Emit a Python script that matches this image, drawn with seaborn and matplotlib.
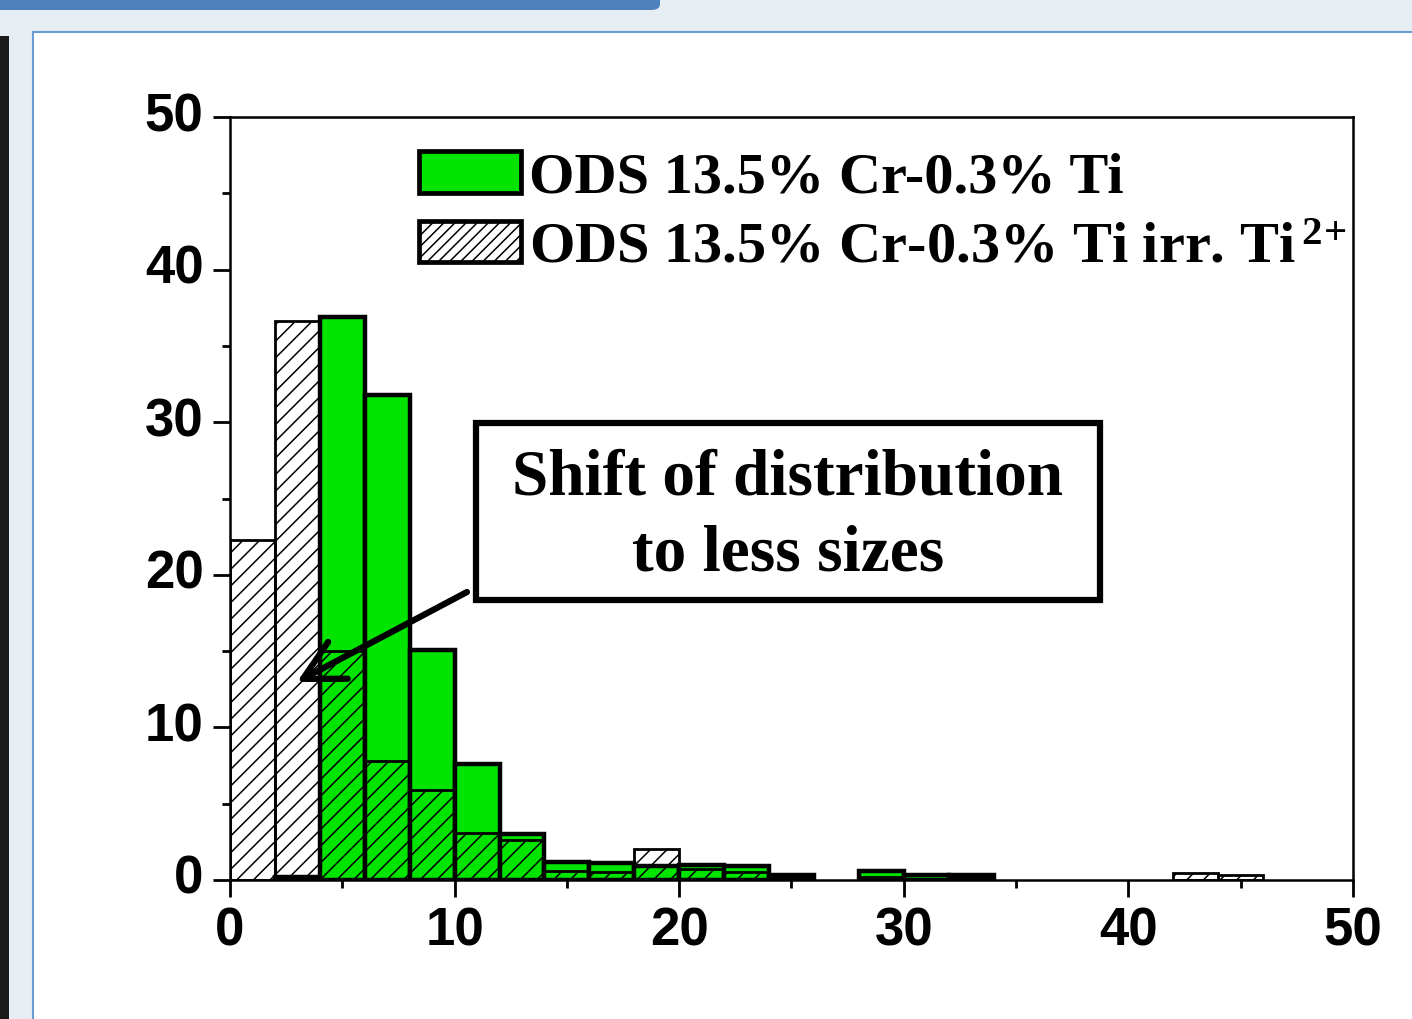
import numpy as np
import pandas as pd
import matplotlib
matplotlib.use("Agg")
import matplotlib.pyplot as plt
from matplotlib.patches import Patch, Rectangle, FancyBboxPatch
import seaborn as sns

# particle size bins (nm), 2 nm wide, 0..50
bin_edges = list(range(0, 52, 2))
bin_centers = [e + 1 for e in bin_edges[:-1]]

# frequency (%) per bin
ods_initial = [0.0, 0.2, 36.9, 31.8, 15.1, 7.6, 3.0, 1.2, 1.1, 0.9, 1.0, 0.9, 0.35,
               0.0, 0.6, 0.3, 0.3, 0.0, 0.0, 0.0, 0.0, 0.0, 0.0, 0.0, 0.0]
ods_irradiated = [22.3, 36.6, 15.0, 7.8, 5.9, 3.1, 2.6, 0.6, 0.5, 2.0, 0.7, 0.5, 0.2,
                  0.0, 0.2, 0.0, 0.2, 0.0, 0.0, 0.0, 0.0, 0.45, 0.3, 0.0, 0.0]

label_initial = "ODS 13.5% Cr-0.3% Ti"
label_irradiated = r"ODS 13.5% Cr-0.3% Ti irr. Ti$^{\,2\!+}$"
note_text = "Shift of distribution\nto less sizes"

x_ticks = [0, 10, 20, 30, 40, 50]
y_ticks = [0, 10, 20, 30, 40, 50]

GREEN = "#00E400"

sns.set_theme(style="white")
plt.rcParams["font.family"] = ["Liberation Sans", "DejaVu Sans"]
plt.rcParams["text.color"] = "black"
plt.rcParams["xtick.color"] = "black"
plt.rcParams["ytick.color"] = "black"
plt.rcParams["mathtext.fontset"] = "custom"
plt.rcParams["mathtext.rm"] = "Liberation Serif:bold"
plt.rcParams["mathtext.bf"] = "Liberation Serif:bold"
plt.rcParams["mathtext.default"] = "rm"
plt.rcParams["hatch.linewidth"] = 1.1

W, H = 1412, 1019
fig = plt.figure(figsize=(W / 100, H / 100), dpi=100)
fig.patch.set_facecolor("white")

def fx(px):
    return px / W

def fy(py):
    return 1 - py / H

# window chrome around the white panel
fig.patches.append(Rectangle((0, fy(32)), 1, 1 - fy(32), transform=fig.transFigure,
                             facecolor="#E7EEF3", edgecolor="none", zorder=0))
fig.patches.append(Rectangle((0, 0), fx(33), 1, transform=fig.transFigure,
                             facecolor="#E7EEF3", edgecolor="none", zorder=0))
fig.patches.append(Rectangle((0, 0), fx(9), fy(36), transform=fig.transFigure,
                             facecolor="#1A1A1A", edgecolor="none", zorder=0))
fig.patches.append(FancyBboxPatch((fx(-20), fy(10)), fx(680), 1 - fy(10) + 0.02,
                                  boxstyle="round,pad=0,rounding_size=0.006",
                                  transform=fig.transFigure,
                                  facecolor="#4F81BD", edgecolor="none", zorder=0))
fig.lines.append(plt.Line2D([fx(33), fx(33)], [0, fy(32)], transform=fig.transFigure,
                            color="#6B9BD2", lw=1.5, zorder=1))
fig.lines.append(plt.Line2D([fx(33), 1], [fy(32), fy(32)], transform=fig.transFigure,
                            color="#6B9BD2", lw=1.5, zorder=1))

ax = fig.add_axes([fx(230), fy(880), fx(1353) - fx(230), fy(117) - fy(880)])
ax.set_facecolor("white")

df = pd.DataFrame({"size": bin_centers, "initial": ods_initial,
                   "irradiated": ods_irradiated})

sns.histplot(data=df, x="size", weights="initial", bins=bin_edges, ax=ax,
             stat="count", element="bars", fill=True,
             facecolor=GREEN, edgecolor="black", linewidth=3.2, alpha=1, zorder=2)
sns.histplot(data=df, x="size", weights="irradiated", bins=bin_edges, ax=ax,
             stat="count", element="bars", fill=True,
             facecolor=(1, 1, 1, 0), edgecolor="black", linewidth=2.0,
             hatch="//", zorder=3)

# empty bins carry no outline
for p in ax.patches:
    if p.get_height() == 0:
        p.set_visible(False)

ax.set_xlim(0, 50)
ax.set_ylim(0, 50)
ax.set_xticks(x_ticks)
ax.set_yticks(y_ticks)
ax.set_xticks([5, 15, 25, 35, 45], minor=True)
ax.set_yticks([5, 15, 25, 35, 45], minor=True)
ax.set_xlabel("")
ax.set_ylabel("")
for lab in ax.get_xticklabels() + ax.get_yticklabels():
    lab.set_fontsize(38)
    lab.set_fontweight("bold")
    lab.set_color("black")
ax.tick_params(axis="both", which="major", direction="out", length=12, width=2,
               color="black", bottom=True, left=True, top=False, right=False)
ax.tick_params(axis="both", which="minor", direction="out", length=6, width=2,
               color="black", bottom=True, left=True, top=False, right=False)
ax.tick_params(axis="y", which="major", pad=7)
ax.tick_params(axis="x", which="major", pad=7)
for lab in ax.get_yticklabels():
    lab.set_verticalalignment("center")
for s in ax.spines.values():
    s.set_visible(True)
    s.set_color("black")
    s.set_linewidth(1.8)

handles = [Patch(facecolor=GREEN, edgecolor="black", linewidth=3.4),
           Patch(facecolor="white", edgecolor="black", linewidth=3.4, hatch="///")]
ax.legend(handles, [label_initial, label_irradiated], loc="upper left",
          bbox_to_anchor=(0.168, 0.955), frameon=False,
          prop={"family": "Liberation Serif", "weight": "bold", "size": 42},
          handlelength=1.75, handleheight=0.72, handletextpad=0.15,
          labelspacing=0.28, borderpad=0, borderaxespad=0, labelcolor="black")

# annotation box with arrow
box_x0 = (476 - 230) / 1123 * 50
box_x1 = (1100 - 230) / 1123 * 50
box_y0 = (880 - 600) / 763 * 50
box_y1 = (880 - 423) / 763 * 50
ax.add_patch(Rectangle((box_x0, box_y0), box_x1 - box_x0, box_y1 - box_y0,
                       facecolor="white", edgecolor="black", linewidth=4.5, zorder=5))
ax.text((box_x0 + box_x1) / 2, (box_y0 + box_y1) / 2 - 0.3, note_text,
        ha="center", va="center", fontsize=47, fontweight="bold",
        family="Liberation Serif", linespacing=1.35, color="black", zorder=6)
ax.annotate("", xy=((297 - 230) / 1123 * 50, (880 - 682) / 763 * 50),
            xytext=((467 - 230) / 1123 * 50, (880 - 592) / 763 * 50),
            arrowprops=dict(arrowstyle="->,head_length=0.95,head_width=0.5",
                            lw=4.5, color="black", mutation_scale=30,
                            shrinkA=0, shrinkB=0),
            zorder=6)

fig.savefig("out.png", dpi=100)
